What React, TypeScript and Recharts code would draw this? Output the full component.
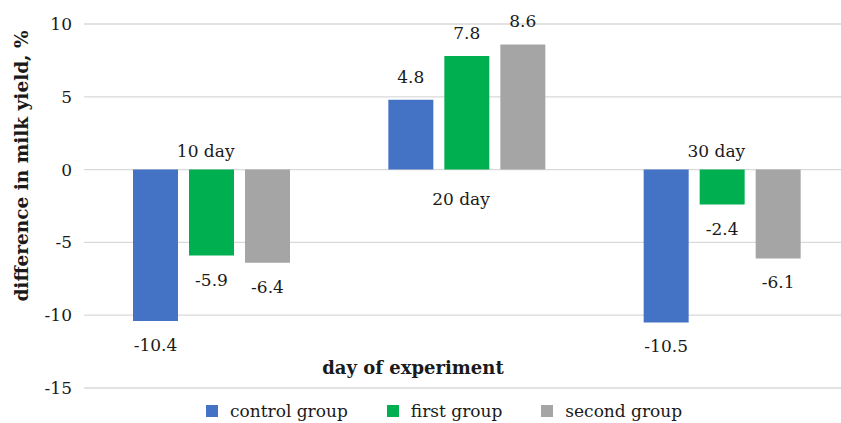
import React from 'react';
import {
  BarChart,
  Bar,
  XAxis,
  YAxis,
  CartesianGrid,
  LabelList,
  ReferenceDot,
} from 'recharts';

document.body.style.margin = '0';

const days = ['10 day', '20 day', '30 day'];
const controlGroup = [-10.4, 4.8, -10.5];
const firstGroup = [-5.9, 7.8, -2.4];
const secondGroup = [-6.4, 8.6, -6.1];
const yTicks = [-15, -10, -5, 0, 5, 10];

const series = [
  { key: 'control', name: 'control group', color: '#4472C4' },
  { key: 'first', name: 'first group', color: '#00B050' },
  { key: 'second', name: 'second group', color: '#A5A5A5' },
];

const data = days.map((day, i) => ({
  day,
  control: controlGroup[i],
  first: firstGroup[i],
  second: secondGroup[i],
}));

const FONT = '"DejaVu Serif", serif';
const TEXT = '#1a1a1a';

// value label just past the end of each bar
const ValueLabel = (props: any) => {
  const { x, y, width, height, value } = props;
  const top = Math.min(y, y + height);
  const bottom = Math.max(y, y + height);
  const cy = value < 0 ? bottom + 24 : top - 23;
  return (
    <text
      x={x + width / 2}
      y={cy}
      textAnchor="middle"
      dominantBaseline="central"
      fontFamily={FONT}
      fontSize={17}
      fill={TEXT}
    >
      {value}
    </text>
  );
};

// category name sits next to the zero line, on the side away from the bars
const dayLabel = (text: string, below: boolean) => (props: any) => {
  const { viewBox } = props;
  const cx = viewBox.x + (viewBox.width || 0) / 2 - 6;
  const cy = viewBox.y + (viewBox.height || 0) / 2 + (below ? 29 : -19);
  return (
    <text
      x={cx}
      y={cy}
      textAnchor="middle"
      dominantBaseline="central"
      fontFamily={FONT}
      fontSize={17}
      fill={TEXT}
    >
      {text}
    </text>
  );
};

export default function App() {
  return (
    <div style={{ position: 'relative', width: 841, height: 423, fontFamily: FONT, color: TEXT }}>
      <BarChart
        width={841}
        height={423}
        data={data}
        margin={{ top: 24, right: -9, left: 0, bottom: 35 }}
        barSize={45}
        barGap={11}
      >
        <CartesianGrid vertical={false} stroke="#d9d9d9" strokeWidth={1.3} />
        <XAxis dataKey="day" hide />
        <YAxis
          width={84}
          domain={[-15, 10]}
          ticks={yTicks}
          axisLine={false}
          tickLine={false}
          tickSize={0}
          tickMargin={12}
          tick={{ fontFamily: FONT, fontSize: 17, fill: TEXT }}
        />
        {series.map((s) => (
          <Bar key={s.key} dataKey={s.key} name={s.name} fill={s.color} isAnimationActive={false}>
            <LabelList dataKey={s.key} content={ValueLabel} />
          </Bar>
        ))}
        {days.map((d, i) => (
          <ReferenceDot
            key={d}
            x={d}
            y={0}
            r={0}
            fill="none"
            stroke="none"
            label={dayLabel(d, controlGroup[i] >= 0)}
          />
        ))}
      </BarChart>

      <div
        style={{
          position: 'absolute',
          left: 21,
          top: 166,
          transform: 'translate(-50%, -50%) rotate(-90deg)',
          whiteSpace: 'nowrap',
          fontWeight: 'bold',
          fontSize: 18.5,
        }}
      >
        difference in milk yield, %
      </div>

      <div
        style={{
          position: 'absolute',
          left: 413,
          top: 367,
          transform: 'translate(-50%, -50%)',
          whiteSpace: 'nowrap',
          fontWeight: 'bold',
          fontSize: 18,
        }}
      >
        day of experiment
      </div>

      <div
        style={{
          position: 'absolute',
          left: 206,
          top: 401,
          display: 'flex',
          alignItems: 'center',
          fontSize: 17,
          whiteSpace: 'nowrap',
        }}
      >
        {series.map((s) => (
          <div key={s.key} style={{ display: 'flex', alignItems: 'center', marginRight: 39 }}>
            <span style={{ width: 12, height: 12, background: s.color, marginRight: 12 }} />
            <span>{s.name}</span>
          </div>
        ))}
      </div>
    </div>
  );
}
